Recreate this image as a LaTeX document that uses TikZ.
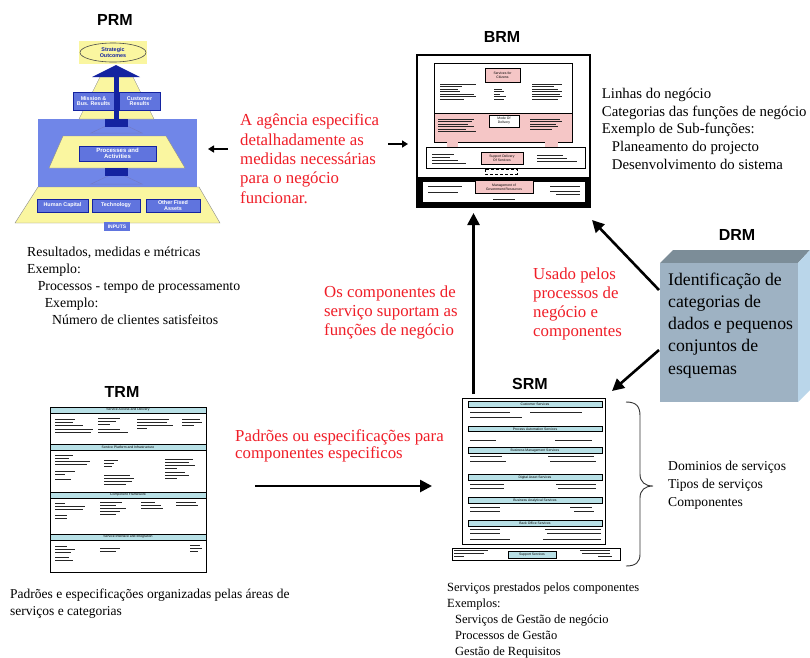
\documentclass[tikz,border=0pt]{standalone}
\usepackage{fontspec}
\setmainfont{Liberation Serif}
\setsansfont{Liberation Sans}
\usetikzlibrary{arrows.meta,shapes.geometric}
\definecolor{prmyel}{RGB}{250,246,160}
\definecolor{prmblue}{RGB}{112,134,232}
\definecolor{prmbox}{RGB}{96,116,222}
\definecolor{navy}{RGB}{20,35,160}
\definecolor{bandcyan}{RGB}{184,224,230}
\definecolor{brmpink}{RGB}{245,198,198}
\definecolor{drmfront}{RGB}{158,178,195}
\definecolor{drmtop}{RGB}{124,141,152}
\definecolor{drmside}{RGB}{186,214,234}
\definecolor{redtxt}{RGB}{240,30,40}
\newcommand\txb[3]{\draw[tbar] (#1,#2) -- ++(#3,0);}
\begin{document}
\begin{tikzpicture}[x=1pt,y=-1pt,
  heading/.style={font=\sffamily\bfseries\fontsize{16}{18}\selectfont, inner sep=0},
  blk/.style={anchor=base west, align=left, inner sep=0},
  redt/.style={blk, text=redtxt, font=\fontsize{16.8}{19.3}\selectfont},
  prmbx/.style={draw=navy, fill=prmbox, line width=0.6pt, text=white, font=\sffamily\bfseries\fontsize{5.4}{5.6}\selectfont, align=center, inner sep=0},
  band/.style={draw=black, fill=bandcyan, line width=0.5pt, font=\sffamily\fontsize{3.4}{4}\selectfont, inner sep=0},
  pinkbx/.style={draw=black, fill=brmpink, line width=0.5pt, font=\sffamily\fontsize{3.4}{4}\selectfont, align=center, inner sep=0},
  tbar/.style={line width=0.75pt, black!85},
  bigarrow/.style={line width=2.6pt, -{Triangle[length=12pt,width=12pt]}},
  smallarrow/.style={line width=2pt, -{Triangle[length=6pt,width=7pt]}},
  trap/.style={fill=prmyel, draw=black!45, line width=0.4pt}
]
\useasboundingbox (0,0) rectangle (810,657);
\fill[white] (0,0) rectangle (810,657);

% ---------------- PRM ----------------
\node[heading] (prmh) at (115,20) {PRM};
\fill[prmblue] (38,119) rectangle (197,187);
\path[trap] (100,77) -- (133,77) -- (154,119) -- (79,119) -- cycle;
\fill[prmyel] (79,41) rectangle (147,64);
\node[draw=black!70, fill=prmyel, ellipse, minimum width=66, minimum height=19, inner sep=0, line width=0.6pt,
  font=\sffamily\bfseries\fontsize{5.4}{5.6}\selectfont, text=navy, align=center] (strat) at (113,52.5) {Strategic\\Outcomes};
\fill[navy] (92,77) -- (116,65) -- (140,77) -- cycle;
\fill[navy] (114,76) rectangle (119,124);
\node[prmbx, minimum width=41, minimum height=18] (mission) at (93.5,101) {Mission \&\\Bus. Results};
\node[prmbx, minimum width=41, minimum height=18] (custres) at (139.5,101) {Customer\\Results};
\path[fill=prmblue, draw=navy!60, line width=0.5pt] (91,133) -- (116.5,121) -- (142,133) -- cycle;
\fill[navy] (105,119) rectangle (128,127);
\fill[navy] (114,119) rectangle (119,124);
\path[trap] (63,136) -- (166,136) -- (185,168) -- (49,168) -- cycle;
\node[prmbx, minimum width=77, minimum height=15, font=\sffamily\bfseries\fontsize{6}{6}\selectfont] (proc) at (117.5,153.5) {Processes and\\Activities};
\path[fill=prmblue, draw=navy!60, line width=0.5pt] (91,184) -- (116.5,172) -- (142,184) -- cycle;
\fill[navy] (105,168) rectangle (128,176);
\path[trap] (38,187) -- (199,187) -- (220,223) -- (15,223) -- cycle;
\node[prmbx, minimum width=51, minimum height=13] (human) at (62.5,205.5) {Human Capital};
\node[prmbx, minimum width=48, minimum height=13] (tech) at (116,205.5) {Technology};
\node[prmbx, minimum width=54, minimum height=13] (ofa) at (173,205.5) {Other Fixed\\Assets};
\node[fill=prmbox, minimum width=26, minimum height=9, inner sep=0, text=white, font=\sffamily\bfseries\fontsize{5}{5}\selectfont] (inputs) at (117,226.5) {INPUTS};

\node[blk, font=\fontsize{13.8}{17}\selectfont] (prmtxt) at (27,324)
 {Resultados, medidas e métricas\\Exemplo:\\\hspace*{10.6pt}Processos - tempo de processamento\\\hspace*{17.6pt}Exemplo:\\\hspace*{25pt}Número de clientes satisfeitos};

% small arrows around red text
\coordinate (la1) at (228,149); \coordinate (la2) at (208,149);
\draw[smallarrow] (la1) -- (la2);
\coordinate (ra1) at (388,144); \coordinate (ra2) at (408,144);
\draw[smallarrow] (ra1) -- (ra2);
\node[redt] (red1) at (240,203) {A agência especifica\\detalhadamente as\\medidas necessárias\\para o negócio\\funcionar.};

% ---------------- BRM ----------------
\node[heading] (brmh) at (502,37) {BRM};
\node[draw=black, line width=1.2pt, minimum width=173, minimum height=152, inner sep=0] (brm) at (503.5,131) {};
\fill[brmpink] (434,113) rectangle (572,142);
\draw[black, line width=0.9pt] (434,113) rectangle (572,142);
\draw[black, line width=0.9pt] (434,63) rectangle (572,142);
\node[pinkbx, minimum width=35, minimum height=14] (sfc) at (502.5,75) {Services for\\Citizens};
\node[draw=black, fill=white, line width=0.5pt, minimum width=30, minimum height=12, inner sep=0, align=center, font=\sffamily\fontsize{3.4}{4}\selectfont] (mod) at (504,121) {Mode Of\\Delivery};
\fill[brmpink] (447,142) rectangle (458,147);
\fill[brmpink] (545,142) rectangle (558,147);
\draw[black, line width=0.9pt] (426,147) rectangle (585,168);
\node[pinkbx, minimum width=42, minimum height=12] (sdos) at (502,158) {Support Delivery\\Of Services};
\draw[black, densely dashed, line width=0.6pt] (485,169) rectangle (517,174);
\fill[black] (417,177) rectangle (590,206.5);
\fill[white] (423,182) rectangle (585,201.5);
\node[pinkbx, minimum width=58, minimum height=13] (mgr) at (504,187) {Management of\\Government Resources};
% tiny text (BRM)
\foreach \y/\l in {84/36,86.5/22,89/18,91.5/20,94/34,96.5/36,99/24} {\txb{440}{\y}{\l}}
\foreach \y/\l in {89/8,91.5/10,94/6,96.5/12,99/10} {\txb{494}{\y}{\l}}
\foreach \y/\l in {84/30,86.5/22,89/26,91.5/30,94/28,96.5/30,99/26} {\txb{532}{\y}{\l}}
\foreach \y/\l in {119/36,121.5/34,124/30,126.5/36,129/28,131.5/38} {\txb{438}{\y}{\l}}
\foreach \y/\l in {119/30,121.5/32,124/26,126.5/28,129/22} {\txb{530}{\y}{\l}}
\foreach \y/\l in {154/22,157/18,160/26,163/34} {\txb{432}{\y}{\l}}
\foreach \y/\l in {155/26,158/30,161/40} {\txb{537}{\y}{\l}}
\txb{428}{186}{34} \txb{428}{192}{30}
\txb{550}{186}{30} \txb{550}{191}{30} \txb{556}{194}{24}
\txb{493}{199}{22}

\node[blk, font=\fontsize{14.8}{17.7}\selectfont] (brmtxt) at (601.7,169.2)
 {Linhas do negócio\\Categorias das funções de negócio\\Exemplo de Sub-funções:\\\hspace*{10pt}Planeamento do projecto\\\hspace*{10pt}Desenvolvimento do sistema};

% ---------------- DRM ----------------
\node[heading] (drmh) at (737,235) {DRM};
\fill[drmtop] (660,263) -- (673,250) -- (810,250) -- (798,263) -- cycle;
\fill[drmside] (798,263) -- (810,250) -- (810,390) -- (798,402) -- cycle;
\node[fill=drmfront, minimum width=138, minimum height=139, inner sep=0] (drmface) at (729,332.5) {};
\node[blk, font=\fontsize{17.7}{22.3}\selectfont] (drmtxt) at (668,374.2)
 {Identificação de\\categorias de\\dados e pequenos\\conjuntos de\\esquemas};

% ---------------- TRM ----------------
\node[heading] (trmh) at (122,392) {TRM};
\node[draw=black, line width=0.9pt, minimum width=156, minimum height=165, inner sep=0] (trm) at (128,489.5) {};
\node[band, minimum width=156, minimum height=6] (tb1) at (128,410) {Service Access and Delivery};
\node[band, minimum width=156, minimum height=6] (tb2) at (128,447) {Service Platform and Infrastructure};
\node[band, minimum width=156, minimum height=6] (tb3) at (128,495) {Component Framework};
\node[band, minimum width=156, minimum height=6] (tb4) at (128,537) {Service Interface and Integration};
\foreach \y/\l in {419/20,422/18,425/28,429/38,432/36} {\txb{55}{\y}{\l}}
\foreach \y/\l in {418/22,421/18,424/12,429/22,432/30} {\txb{98}{\y}{\l}}
\foreach \y/\l in {419/32,422/30,425/36,428/10} {\txb{137}{\y}{\l}}
\foreach \y/\l in {419/18,422/20,425/12} {\txb{182}{\y}{\l}}
\foreach \y/\l in {455/18,458/14,461/35,464/32,471/20,474/10,479/16} {\txb{55}{\y}{\l}}
\foreach \y/\l in {460/14,463/10,466/8,475/26,478/30,481/28,484/22} {\txb{104}{\y}{\l}}
\foreach \y/\l in {459/28,462/24,465/30,468/12,472/20,475/24,478/12} {\txb{165}{\y}{\l}}
\foreach \y/\l in {503/10,506/30,509/28,515/12,518/12} {\txb{55}{\y}{\l}}
\foreach \y/\l in {502/22,505/16,508/26,511/20,514/16} {\txb{100}{\y}{\l}}
\foreach \y/\l in {502/14,505/20,508/22} {\txb{141}{\y}{\l}}
\foreach \y/\l in {502/20,505/22} {\txb{176}{\y}{\l}}
\foreach \y/\l in {546/12,549/20,552/16,557/14,560/18} {\txb{55}{\y}{\l}}
\foreach \y/\l in {548/20,551/16} {\txb{100}{\y}{\l}}
\foreach \y/\l in {545/10,548/12,551/8} {\txb{190}{\y}{\l}}

\node[blk, font=\fontsize{13.5}{17}\selectfont] (trmtxt) at (10,615)
 {Padrões e especificações organizadas pelas áreas de\\serviços e categorias};

% ---------------- SRM ----------------
\node[heading] (srmh) at (530,384) {SRM};
\node[draw=black, line width=0.9pt, minimum width=143, minimum height=146, inner sep=0] (srm) at (533.5,471) {};
\node[band, minimum width=134, minimum height=5.7] (sb1) at (535,404) {Customer Services};
\node[band, minimum width=134, minimum height=5] (sb2) at (535,429.2) {Process Automation Services};
\node[band, minimum width=134, minimum height=6] (sb3) at (535,450.3) {Business Management Services};
\node[band, minimum width=134, minimum height=6.4] (sb4) at (535,477.5) {Digital Asset Services};
\node[band, minimum width=134, minimum height=6] (sb5) at (535,500.3) {Business Analytical Services};
\node[band, minimum width=134, minimum height=6] (sb6) at (535,523) {Back Office Services};
\txb{470}{412.3}{40} \txb{470}{417}{52} \txb{530}{412.3}{52}
\txb{470}{440}{26} \txb{555}{440}{37}
\txb{470}{456.7}{32} \txb{470}{461.5}{36} \txb{548}{456.7}{46} \txb{550}{461.5}{46}
\txb{470}{484}{34} \txb{470}{488.3}{34} \txb{556}{484}{40} \txb{558}{488.3}{38}
\txb{470}{507.3}{30} \txb{470}{511.7}{30} \txb{570}{507.3}{22} \txb{574}{511.7}{20}
\txb{470}{529}{30} \txb{470}{533}{30} \txb{470}{539}{40}
\txb{545}{529}{56} \txb{547}{533}{54} \txb{543}{539}{58}
\node[draw=black, line width=0.9pt, minimum width=168, minimum height=12, inner sep=0] (supp) at (536,554) {};
\node[band, minimum width=48, minimum height=7] (ssv) at (532,554.5) {Support Services};
\txb{454}{550.5}{34} \txb{454}{553.5}{30} \txb{454}{556.5}{10}
\txb{580}{550.5}{30} \txb{582}{553.5}{28} \txb{598}{556.5}{14}

% brace
\draw[black!80, line width=0.9pt] (626,402) .. controls (636,402) and (640,406) .. (640,416) -- (640,474)
  .. controls (640,482) and (645,486) .. (653,486) .. controls (645,486) and (640,490) .. (640,498)
  -- (640,554) .. controls (640,562) and (636,566) .. (626,566);
\node[blk, font=\fontsize{13.6}{18}\selectfont] (bracetxt) at (668,506)
 {Dominios de serviços\\Tipos de serviços\\Componentes};

\node[blk, font=\fontsize{12.5}{16}\selectfont] (srmtxt) at (447,655)
 {Serviços prestados pelos componentes\\Exemplos:\\\hspace*{8pt}Serviços de Gestão de negócio\\\hspace*{8pt}Processos de Gestão\\\hspace*{8pt}Gestão de Requisitos};

% ---------------- red labels ----------------
\node[redt] (red2) at (324,335.6) {Os componentes de\\serviço suportam as\\funções de negócio};
\node[redt] (red3) at (533,336.9) {Usado pelos\\processos de\\negócio e\\componentes};
\node[redt, font=\fontsize{16.8}{17.7}\selectfont] (red4) at (235,458.7) {Padrões ou especificações para\\componentes especificos};

% ---------------- connectors ----------------
\coordinate (srmUp) at (473.5,394); \coordinate (brmBot) at (473.5,213);
\draw[bigarrow] (srmUp) -- (brmBot);
\coordinate (drmUp) at (659,290); \coordinate (brmCorner) at (592,220);
\draw[bigarrow] (drmUp) -- (brmCorner);
\coordinate (drmLow) at (659,350); \coordinate (srmCorner) at (612,391);
\draw[bigarrow] (drmLow) -- (srmCorner);
\coordinate (trmOut) at (255,486); \coordinate (srmIn) at (432,486);
\draw[bigarrow] (trmOut) -- (srmIn);
\end{tikzpicture}
\end{document}
